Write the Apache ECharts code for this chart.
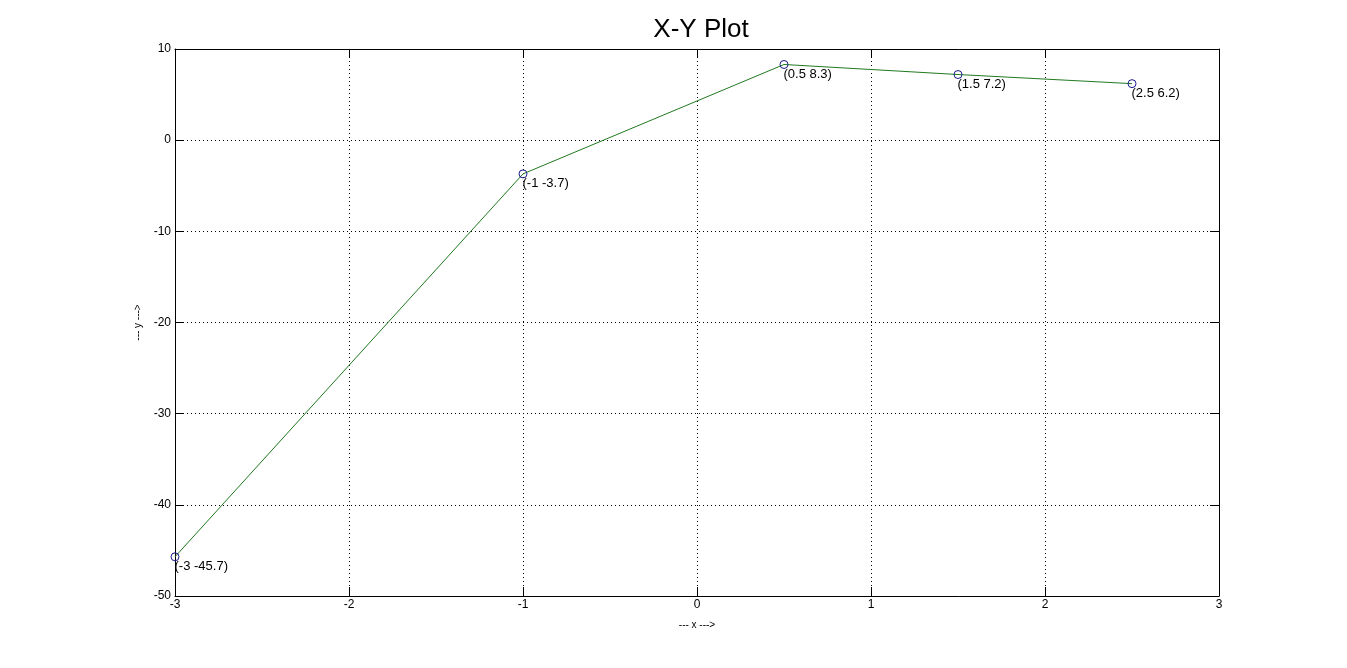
<!DOCTYPE html>
<html>
<head>
<meta charset="utf-8">
<script src="https://cdn.jsdelivr.net/npm/echarts@6/dist/echarts.min.js"></script>
<style>
  html, body { margin: 0; padding: 0; background: #fff; }
  #chart { width: 1347px; height: 668px; }
</style>
</head>
<body>
<div id="chart"></div>
<script>
const xValues = [-3, -1, 0.5, 1.5, 2.5]
const yValues = [-45.7, -3.7, 8.3, 7.2, 6.2]

const chart = echarts.init(document.getElementById('chart'), null, { renderer: 'canvas' })

const font = 'Liberation Sans, Arial, sans-serif'
const tickStyle = { show: true, inside: true, length: 9, lineStyle: { color: '#000', width: 1 } }
const axisLineStyle = { show: true, onZero: false, lineStyle: { color: '#000', width: 1 } }
const gridLine = { show: true, lineStyle: { color: '#000', type: [1, 3], width: 1 } }

chart.setOption({
  backgroundColor: '#fff',
  animation: false,
  title: {
    text: 'X-Y Plot',
    left: 696,
    textAlign: 'center',
    top: 12,
    textStyle: { fontFamily: font, fontSize: 26, fontWeight: 'normal', color: '#000' },
  },
  grid: { left: 175, right: 128, top: 49, bottom: 72 },
  xAxis: [{
    type: 'value',
    min: -3, max: 3, interval: 1,
    position: 'bottom',
    name: '--- x --->',
    nameLocation: 'middle',
    nameGap: 24,
    nameTextStyle: { fontFamily: font, fontSize: 10, color: '#000' },
    axisLine: axisLineStyle,
    axisTick: tickStyle,
    axisLabel: { fontFamily: font, fontSize: 12, color: '#000', margin: 3 },
    splitLine: gridLine,
  }, {
    type: 'value',
    min: -3, max: 3, interval: 1,
    position: 'top',
    axisLine: axisLineStyle,
    axisTick: tickStyle,
    axisLabel: { show: false },
    splitLine: { show: false },
  }],
  yAxis: [{
    type: 'value',
    min: -50, max: 10, interval: 10,
    position: 'left',
    name: '--- y --->',
    nameLocation: 'middle',
    nameGap: 29,
    nameTextStyle: { fontFamily: font, fontSize: 10, color: '#000' },
    axisLine: axisLineStyle,
    axisTick: tickStyle,
    axisLabel: { fontFamily: font, fontSize: 12, color: '#000', margin: 4 },
    splitLine: gridLine,
  }, {
    type: 'value',
    min: -50, max: 10, interval: 10,
    position: 'right',
    axisLine: axisLineStyle,
    axisTick: tickStyle,
    axisLabel: { show: false },
    splitLine: { show: false },
  }],
  series: [{
    type: 'line',
    data: xValues.map((x, i) => [x, yValues[i]]),
    symbol: 'circle',
    symbolSize: 8,
    showAllSymbol: true,
    lineStyle: { color: '#1f7a1f', width: 1 },
    itemStyle: { color: 'transparent', borderColor: '#1a1a8c', borderWidth: 1 },
    label: {
      show: true,
      position: [4, 8],
      align: 'left',
      verticalAlign: 'top',
      fontFamily: font,
      fontSize: 13,
      color: '#000',
      formatter: (p) => `(${p.value[0]} ${p.value[1]})`,
    },
    z: 5,
  }],
})
</script>
</body>
</html>
